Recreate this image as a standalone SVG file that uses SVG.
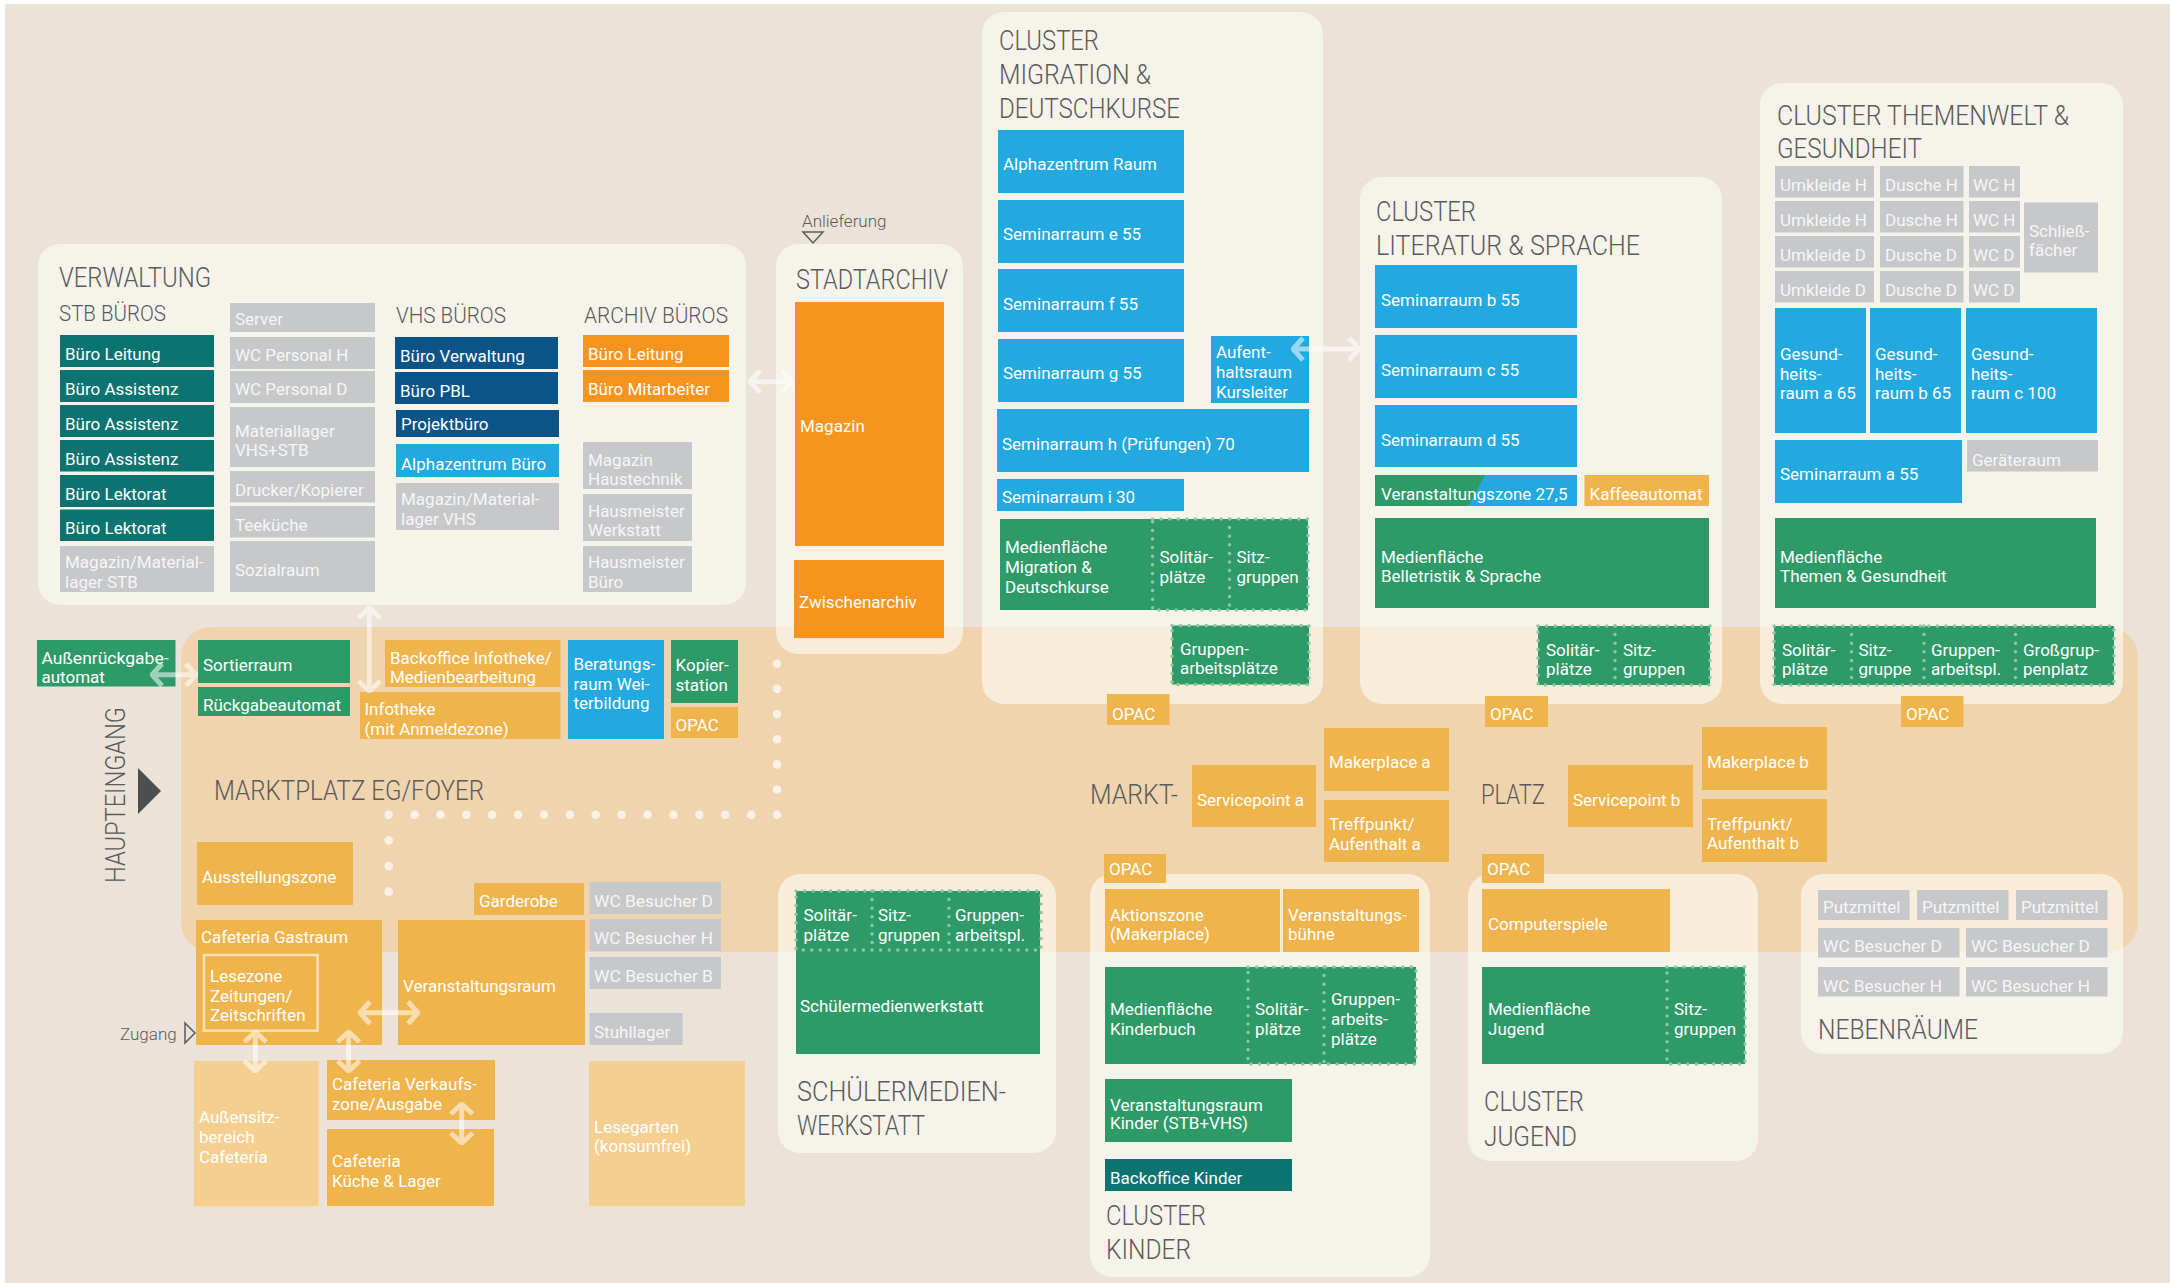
<svg xmlns="http://www.w3.org/2000/svg" width="2170" height="1283" viewBox="0 0 2170 1283">
<style>
.bg{fill:#ECE3D8}
.band{fill:#F0D4AD}
.panel{fill:#FDFDF8;fill-opacity:.6}
.teal{fill:#0B7470}.grey{fill:#C7C8CA}.navy{fill:#0A5487}.blue{fill:#22A9DF}.orange{fill:#F7941E}.yellow{fill:#F0B44C}.green{fill:#2E9A68}.pale{fill:#F5CF8F}
text{font-family:Roboto,"Liberation Sans",sans-serif}
.l{font-size:17px;fill:#FFFFFF}
.g{font-size:17px;fill:#F6F6F6}
.h{font-size:27px;font-weight:300;fill:#5A5B5D}
.h2{font-size:22.5px;font-weight:300;fill:#5A5B5D}
.s{font-size:17px;font-weight:300;fill:#5A5B5D}
.dot{fill:none;stroke:#8EC6A4;stroke-width:3.5;stroke-dasharray:0 8.6;stroke-linecap:round}
.walk{fill:none;stroke:#FAF2E6;stroke-width:8.6;stroke-linecap:round}
.frame{fill:none;stroke:#F8E0B8;stroke-width:2.5}
.conn{fill:none;stroke:#FFFFFF;stroke-width:5;marker-start:url(#chev);marker-end:url(#chev)}
</style>
<defs>
<marker id="chev" viewBox="-14 -14 16 28" markerWidth="16" markerHeight="28" refX="0" refY="0" orient="auto-start-reverse" markerUnits="userSpaceOnUse">
<path d="M-10,-11 L0,0 L-10,11" fill="none" stroke="#FFFFFF" stroke-width="5"/>
</marker>
</defs>

<rect class="bg" x="5" y="4" width="2165" height="1279"/>
<rect id="marktplatz-band" class="band" x="181" y="627" width="1957" height="325" rx="30"/>

<g id="panels">
<rect id="p-verwaltung" class="panel" x="38" y="244" width="708" height="361" rx="22"/>
<rect id="p-stadtarchiv" class="panel" x="776" y="244" width="187" height="410" rx="22"/>
<rect id="p-migration" class="panel" x="982" y="12" width="341" height="692" rx="22"/>
<rect id="p-literatur" class="panel" x="1360" y="177" width="362" height="527" rx="22"/>
<rect id="p-themenwelt" class="panel" x="1760" y="83" width="363" height="621" rx="22"/>
<rect id="p-schueler" class="panel" x="778" y="874" width="278" height="279" rx="22"/>
<rect id="p-kinder" class="panel" x="1090" y="874" width="340" height="403" rx="22"/>
<rect id="p-jugend" class="panel" x="1468" y="874" width="290" height="287" rx="22"/>
<rect id="p-neben" class="panel" x="1801" y="874" width="322" height="180" rx="22"/>
</g>

<g id="walkway">
<path class="walk" d="M777,663.7 V814.7" stroke-dasharray="0 25.17"/>
<path class="walk" d="M777,814.7 H388.7" stroke-dasharray="0 25.89"/>
<path class="walk" d="M388.7,814.7 V917.3" stroke-dasharray="0 25.65"/>
</g>

<g id="titles">
<text class="h" x="59" y="287" textLength="152" lengthAdjust="spacingAndGlyphs">VERWALTUNG</text>
<text class="h2" x="59" y="321" textLength="107" lengthAdjust="spacingAndGlyphs">STB BÜROS</text>
<text class="h2" x="396" y="322.5" textLength="110" lengthAdjust="spacingAndGlyphs">VHS BÜROS</text>
<text class="h2" x="584" y="322.5" textLength="144" lengthAdjust="spacingAndGlyphs">ARCHIV BÜROS</text>
<text class="h" x="796" y="289" textLength="152" lengthAdjust="spacingAndGlyphs">STADTARCHIV</text>
<text class="h" x="999" y="50" textLength="100" lengthAdjust="spacingAndGlyphs">CLUSTER</text>
<text class="h" x="999" y="84" textLength="152" lengthAdjust="spacingAndGlyphs">MIGRATION &amp;</text>
<text class="h" x="999" y="118" textLength="181" lengthAdjust="spacingAndGlyphs">DEUTSCHKURSE</text>
<text class="h" x="1376" y="221" textLength="100" lengthAdjust="spacingAndGlyphs">CLUSTER</text>
<text class="h" x="1376" y="254.5" textLength="264" lengthAdjust="spacingAndGlyphs">LITERATUR &amp; SPRACHE</text>
<text class="h" x="1777" y="124.5" textLength="292" lengthAdjust="spacingAndGlyphs">CLUSTER THEMENWELT &amp;</text>
<text class="h" x="1777" y="158" textLength="145" lengthAdjust="spacingAndGlyphs">GESUNDHEIT</text>
<text class="h" x="214" y="800" textLength="270" lengthAdjust="spacingAndGlyphs">MARKTPLATZ EG/FOYER</text>
<text class="h" x="1090" y="804" textLength="88" lengthAdjust="spacingAndGlyphs">MARKT-</text>
<text class="h" x="1481" y="804" textLength="64" lengthAdjust="spacingAndGlyphs">PLATZ</text>
<text class="h" x="797" y="1101" textLength="209" lengthAdjust="spacingAndGlyphs">SCHÜLERMEDIEN-</text>
<text class="h" x="797" y="1135" textLength="128" lengthAdjust="spacingAndGlyphs">WERKSTATT</text>
<text class="h" x="1106" y="1225" textLength="100" lengthAdjust="spacingAndGlyphs">CLUSTER</text>
<text class="h" x="1106" y="1259" textLength="85" lengthAdjust="spacingAndGlyphs">KINDER</text>
<text class="h" x="1484" y="1111" textLength="100" lengthAdjust="spacingAndGlyphs">CLUSTER</text>
<text class="h" x="1484" y="1146" textLength="93" lengthAdjust="spacingAndGlyphs">JUGEND</text>
<text class="h" x="1818" y="1039" textLength="160" lengthAdjust="spacingAndGlyphs">NEBENRÄUME</text>
<text class="h" transform="translate(125,883) rotate(-90)" x="0" y="0" textLength="176" lengthAdjust="spacingAndGlyphs">HAUPTEINGANG</text>
<polygon points="138,768 161,791 138,814" fill="#4D4E50"/>
<text class="s" x="802" y="226.5">Anlieferung</text>
<polygon points="803,232 823,232 813,243" fill="none" stroke="#5A5B5D" stroke-width="1.5"/>
<text class="s" x="120" y="1040">Zugang</text>
<polygon points="185,1023 195,1033 185,1043" fill="none" stroke="#5A5B5D" stroke-width="1.5"/>
</g>

<g id="verwaltung-rooms">
<g id="stb-leitung"><rect class="teal" x="60" y="335" width="154" height="32"/><text class="l" x="65" y="359.5">Büro Leitung</text></g>
<g id="stb-assistenz1"><rect class="teal" x="60" y="370" width="154" height="32"/><text class="l" x="65" y="394.5">Büro Assistenz</text></g>
<g id="stb-assistenz2"><rect class="teal" x="60" y="405" width="154" height="32"/><text class="l" x="65" y="429.5">Büro Assistenz</text></g>
<g id="stb-assistenz3"><rect class="teal" x="60" y="440" width="154" height="31.5"/><text class="l" x="65" y="464.5">Büro Assistenz</text></g>
<g id="stb-lektorat1"><rect class="teal" x="60" y="475" width="154" height="32"/><text class="l" x="65" y="499.5">Büro Lektorat</text></g>
<g id="stb-lektorat2"><rect class="teal" x="60" y="509.5" width="154" height="31.5"/><text class="l" x="65" y="534">Büro Lektorat</text></g>
<g id="stb-magazin"><rect class="grey" x="60" y="546" width="154" height="46"/><text class="g"><tspan x="65" y="568">Magazin/Material-</tspan><tspan x="65" y="587.5">lager STB</tspan></text></g>
<g id="server"><rect class="grey" x="230" y="303" width="145" height="29"/><text class="g" x="235" y="325">Server</text></g>
<g id="wc-personal-h"><rect class="grey" x="230" y="337" width="145" height="32"/><text class="g" x="235" y="361">WC Personal H</text></g>
<g id="wc-personal-d"><rect class="grey" x="230" y="371" width="145" height="32"/><text class="g" x="235" y="395">WC Personal D</text></g>
<g id="materiallager"><rect class="grey" x="230" y="407" width="145" height="60"/><text class="g"><tspan x="235" y="436.5">Materiallager</tspan><tspan x="235" y="456">VHS+STB</tspan></text></g>
<g id="drucker"><rect class="grey" x="230" y="471" width="145" height="31.5"/><text class="g" x="235" y="495.5">Drucker/Kopierer</text></g>
<g id="teekueche"><rect class="grey" x="230" y="506" width="145" height="31.5"/><text class="g" x="235" y="531">Teeküche</text></g>
<g id="sozialraum"><rect class="grey" x="230" y="541" width="145" height="51"/><text class="g" x="235" y="576">Sozialraum</text></g>
<g id="vhs-verwaltung"><rect class="navy" x="395" y="337" width="163" height="32"/><text class="l" x="400" y="361.5">Büro Verwaltung</text></g>
<g id="vhs-pbl"><rect class="navy" x="395" y="372" width="163" height="32"/><text class="l" x="400" y="396.5">Büro PBL</text></g>
<g id="projektbuero"><rect class="navy" x="396" y="410" width="163" height="27"/><text class="l" x="401" y="430">Projektbüro</text></g>
<g id="alpha-buero"><rect class="blue" x="396" y="444" width="163" height="33"/><text class="l" x="401" y="469.5">Alphazentrum Büro</text></g>
<g id="vhs-magazin"><rect class="grey" x="396" y="483" width="163" height="47"/><text class="g"><tspan x="401" y="505">Magazin/Material-</tspan><tspan x="401" y="524.5">lager VHS</tspan></text></g>
<g id="archiv-leitung"><rect class="orange" x="583" y="335" width="146" height="32"/><text class="l" x="588" y="360">Büro Leitung</text></g>
<g id="archiv-mitarbeiter"><rect class="orange" x="583" y="370" width="146" height="32"/><text class="l" x="588" y="394.5">Büro Mitarbeiter</text></g>
<g id="magazin-haustechnik"><rect class="grey" x="583" y="442" width="109" height="47"/><text class="g"><tspan x="588" y="466">Magazin</tspan><tspan x="588" y="485">Haustechnik</tspan></text></g>
<g id="hausmeister-werkstatt"><rect class="grey" x="583" y="494" width="109" height="47"/><text class="g"><tspan x="588" y="517">Hausmeister</tspan><tspan x="588" y="536">Werkstatt</tspan></text></g>
<g id="hausmeister-buero"><rect class="grey" x="583" y="546" width="109" height="46"/><text class="g"><tspan x="588" y="568">Hausmeister</tspan><tspan x="588" y="587.5">Büro</tspan></text></g>
</g>

<g id="stadtarchiv-rooms">
<g id="magazin"><rect class="orange" x="795" y="302" width="149" height="244"/><text class="l" x="800" y="432">Magazin</text></g>
<g id="zwischenarchiv"><rect class="orange" x="794" y="560" width="150" height="78"/><text class="l" x="799" y="607.5">Zwischenarchiv</text></g>
</g>

<g id="migration-rooms">
<g id="alpha-raum"><rect class="blue" x="998" y="130" width="186" height="63"/><text class="l" x="1003" y="170">Alphazentrum Raum</text></g>
<g id="sem-e"><rect class="blue" x="998" y="200" width="186" height="63"/><text class="l" x="1003" y="240">Seminarraum e 55</text></g>
<g id="sem-f"><rect class="blue" x="998" y="269" width="186" height="63"/><text class="l" x="1003" y="310">Seminarraum f 55</text></g>
<g id="sem-g"><rect class="blue" x="998" y="339" width="186" height="63"/><text class="l" x="1003" y="379">Seminarraum g 55</text></g>
<g id="aufenthalt-kursleiter"><rect class="blue" x="1211" y="336" width="98" height="67"/><text class="l"><tspan x="1216" y="358">Aufent-</tspan><tspan x="1216" y="378">haltsraum</tspan><tspan x="1216" y="398">Kursleiter</tspan></text></g>
<g id="sem-h"><rect class="blue" x="997" y="409" width="312" height="63"/><text class="l" x="1002" y="449.5">Seminarraum h (Prüfungen) 70</text></g>
<g id="sem-i"><rect class="blue" x="997" y="479" width="187" height="32"/><text class="l" x="1002" y="503">Seminarraum i 30</text></g>
<g id="medien-migration"><rect class="green" x="1000" y="519" width="308" height="91"/>
<path class="dot" d="M1152.5,519 H1308 V610 H1152.5 Z M1229.5,519 V610"/>
<text class="l"><tspan x="1005" y="553">Medienfläche</tspan><tspan x="1005" y="573">Migration &amp;</tspan><tspan x="1005" y="593">Deutschkurse</tspan></text>
<text class="l"><tspan x="1159.5" y="563">Solitär-</tspan><tspan x="1159.5" y="583">plätze</tspan></text>
<text class="l"><tspan x="1236.5" y="563">Sitz-</tspan><tspan x="1236.5" y="583">gruppen</tspan></text></g>
<g id="gruppen-migration"><rect class="green" x="1172" y="625.5" width="137" height="59"/><path class="dot" d="M1172,625.5 H1309 V684.5 H1172 Z"/><text class="l"><tspan x="1180" y="654.5">Gruppen-</tspan><tspan x="1180" y="674">arbeitsplätze</tspan></text></g>
<g id="opac-migration"><rect class="yellow" x="1107" y="694" width="62.5" height="31"/><text class="l" x="1112" y="719.5">OPAC</text></g>
</g>

<g id="literatur-rooms">
<g id="sem-b"><rect class="blue" x="1375" y="265" width="202" height="63"/><text class="l" x="1381" y="306">Seminarraum b 55</text></g>
<g id="sem-c"><rect class="blue" x="1375" y="335" width="202" height="63"/><text class="l" x="1381" y="376">Seminarraum c 55</text></g>
<g id="sem-d"><rect class="blue" x="1375" y="405" width="202" height="62"/><text class="l" x="1381" y="445.5">Seminarraum d 55</text></g>
<g id="veranstaltungszone"><rect class="blue" x="1375" y="475" width="202" height="31"/><polygon class="green" points="1375,475 1485,475 1468,506 1375,506"/><text class="l" x="1381" y="500">Veranstaltungszone 27,5</text></g>
<g id="kaffeeautomat"><rect class="yellow" x="1584.5" y="475" width="124.5" height="31"/><text class="l" x="1589.5" y="500">Kaffeeautomat</text></g>
<g id="medien-belletristik"><rect class="green" x="1375" y="518" width="334" height="90"/><text class="l"><tspan x="1381" y="562.5">Medienfläche</tspan><tspan x="1381" y="582">Belletristik &amp; Sprache</tspan></text></g>
<g id="sitz-literatur"><rect class="green" x="1538" y="626" width="172" height="59"/><path class="dot" d="M1538,626 H1710 V685 H1538 Z M1615,626 V685"/>
<text class="l"><tspan x="1546" y="655.5">Solitär-</tspan><tspan x="1546" y="674.5">plätze</tspan></text>
<text class="l"><tspan x="1623" y="655.5">Sitz-</tspan><tspan x="1623" y="674.5">gruppen</tspan></text></g>
<g id="opac-literatur"><rect class="yellow" x="1485" y="696" width="63" height="31"/><text class="l" x="1490" y="719.5">OPAC</text></g>
</g>

<g id="themenwelt-rooms">
<g id="umkleide-h1"><rect class="grey" x="1775" y="166" width="99" height="31.5"/><text class="g" x="1780" y="191">Umkleide H</text></g>
<g id="dusche-h1"><rect class="grey" x="1880" y="166" width="83.5" height="31.5"/><text class="g" x="1885" y="191">Dusche H</text></g>
<g id="wc-h1"><rect class="grey" x="1969" y="166" width="51" height="31.5"/><text class="g" x="1973" y="191">WC H</text></g>
<g id="umkleide-h2"><rect class="grey" x="1775" y="201" width="99" height="31.5"/><text class="g" x="1780" y="226">Umkleide H</text></g>
<g id="dusche-h2"><rect class="grey" x="1880" y="201" width="83.5" height="31.5"/><text class="g" x="1885" y="226">Dusche H</text></g>
<g id="wc-h2"><rect class="grey" x="1969" y="201" width="51" height="31.5"/><text class="g" x="1973" y="226">WC H</text></g>
<g id="umkleide-d1"><rect class="grey" x="1775" y="236" width="99" height="31.5"/><text class="g" x="1780" y="261">Umkleide D</text></g>
<g id="dusche-d1"><rect class="grey" x="1880" y="236" width="83.5" height="31.5"/><text class="g" x="1885" y="261">Dusche D</text></g>
<g id="wc-d1"><rect class="grey" x="1969" y="236" width="51" height="31.5"/><text class="g" x="1973" y="261">WC D</text></g>
<g id="umkleide-d2"><rect class="grey" x="1775" y="271" width="99" height="31.5"/><text class="g" x="1780" y="296">Umkleide D</text></g>
<g id="dusche-d2"><rect class="grey" x="1880" y="271" width="83.5" height="31.5"/><text class="g" x="1885" y="296">Dusche D</text></g>
<g id="wc-d2"><rect class="grey" x="1969" y="271" width="51" height="31.5"/><text class="g" x="1973" y="296">WC D</text></g>
<g id="schliessfaecher"><rect class="grey" x="2024" y="202.5" width="74" height="70"/><text class="g"><tspan x="2029" y="236.5">Schließ-</tspan><tspan x="2029" y="256">fächer</tspan></text></g>
<g id="gesund-a"><rect class="blue" x="1775" y="308" width="91" height="125"/><text class="l"><tspan x="1780" y="360">Gesund-</tspan><tspan x="1780" y="379.5">heits-</tspan><tspan x="1780" y="399">raum a 65</tspan></text></g>
<g id="gesund-b"><rect class="blue" x="1870" y="308" width="91" height="125"/><text class="l"><tspan x="1875" y="360">Gesund-</tspan><tspan x="1875" y="379.5">heits-</tspan><tspan x="1875" y="399">raum b 65</tspan></text></g>
<g id="gesund-c"><rect class="blue" x="1966" y="308" width="131" height="125"/><text class="l"><tspan x="1971" y="360">Gesund-</tspan><tspan x="1971" y="379.5">heits-</tspan><tspan x="1971" y="399">raum c 100</tspan></text></g>
<g id="sem-a"><rect class="blue" x="1775" y="440" width="187" height="63"/><text class="l" x="1780" y="480">Seminarraum a 55</text></g>
<g id="geraeteraum"><rect class="grey" x="1967" y="440" width="131" height="31.5"/><text class="g" x="1972" y="465.5">Geräteraum</text></g>
<g id="medien-themen"><rect class="green" x="1775" y="518" width="321" height="90"/><text class="l"><tspan x="1780" y="562.5">Medienfläche</tspan><tspan x="1780" y="582">Themen &amp; Gesundheit</tspan></text></g>
<g id="sitz-themen"><rect class="green" x="1774" y="626" width="340" height="59"/><path class="dot" d="M1774,626 H2114 V685 H1774 Z M1851.5,626 V685 M1924,626 V685 M2015.5,626 V685"/>
<text class="l"><tspan x="1782" y="655.5">Solitär-</tspan><tspan x="1782" y="674.5">plätze</tspan></text>
<text class="l"><tspan x="1858.5" y="655.5">Sitz-</tspan><tspan x="1858.5" y="674.5">gruppe</tspan></text>
<text class="l"><tspan x="1931" y="655.5">Gruppen-</tspan><tspan x="1931" y="674.5">arbeitspl.</tspan></text>
<text class="l"><tspan x="2023" y="655.5">Großgrup-</tspan><tspan x="2023" y="674.5">penplatz</tspan></text></g>
<g id="opac-themen"><rect class="yellow" x="1901" y="696" width="62.5" height="31"/><text class="l" x="1906" y="719.5">OPAC</text></g>
</g>

<g id="marktplatz-rooms">
<g id="aussenrueckgabe"><rect class="green" x="37" y="640" width="138.5" height="46.5"/><text class="l"><tspan x="41.5" y="663.5" textLength="127" lengthAdjust="spacingAndGlyphs">Außenrückgabe-</tspan><tspan x="41.5" y="683">automat</tspan></text></g>
<g id="sortierraum"><rect class="green" x="198" y="640" width="152" height="43"/><text class="l" x="203" y="671">Sortierraum</text></g>
<g id="rueckgabeautomat"><rect class="green" x="198" y="687" width="152" height="29"/><text class="l" x="203" y="710.5">Rückgabeautomat</text></g>
<g id="backoffice-infotheke"><rect class="yellow" x="385" y="640" width="175.5" height="47"/><text class="l"><tspan x="390" y="663.5">Backoffice Infotheke/</tspan><tspan x="390" y="683">Medienbearbeitung</tspan></text></g>
<g id="infotheke"><rect class="yellow" x="360" y="692" width="200.5" height="47"/><text class="l"><tspan x="364.5" y="715">Infotheke</tspan><tspan x="364.5" y="734.5">(mit Anmeldezone)</tspan></text></g>
<g id="beratungsraum"><rect class="blue" x="568" y="640" width="96" height="99"/><text class="l"><tspan x="573.5" y="669.5">Beratungs-</tspan><tspan x="573.5" y="689.5">raum Wei-</tspan><tspan x="573.5" y="709">terbildung</tspan></text></g>
<g id="kopierstation"><rect class="green" x="671" y="640" width="67" height="63"/><text class="l"><tspan x="675.5" y="671">Kopier-</tspan><tspan x="675.5" y="691">station</tspan></text></g>
<g id="opac-foyer"><rect class="yellow" x="671" y="707" width="67" height="31"/><text class="l" x="675.5" y="731">OPAC</text></g>
<g id="ausstellungszone"><rect class="yellow" x="197" y="842" width="156" height="63"/><text class="l" x="202" y="882.5">Ausstellungszone</text></g>
<g id="garderobe"><rect class="yellow" x="474" y="883" width="110" height="32"/><text class="l" x="479" y="907">Garderobe</text></g>
<g id="wc-besucher-d"><rect class="grey" x="589.6" y="882" width="131.4" height="32"/><text class="g" x="594" y="907" textLength="119" lengthAdjust="spacingAndGlyphs">WC Besucher D</text></g>
<g id="wc-besucher-h"><rect class="grey" x="589.6" y="919" width="131.4" height="32"/><text class="g" x="594" y="944" textLength="119" lengthAdjust="spacingAndGlyphs">WC Besucher H</text></g>
<g id="wc-besucher-b"><rect class="grey" x="589.6" y="957" width="131.4" height="32"/><text class="g" x="594" y="981.5" textLength="119" lengthAdjust="spacingAndGlyphs">WC Besucher B</text></g>
<g id="stuhllager"><rect class="grey" x="589.6" y="1013" width="93" height="32"/><text class="g" x="594" y="1037.5">Stuhllager</text></g>
<g id="cafeteria-gastraum"><rect class="yellow" x="196" y="920" width="186" height="125"/><text class="l" x="201" y="943">Cafeteria Gastraum</text>
<rect class="frame" x="204" y="955" width="113.6" height="75.7"/><text class="l"><tspan x="210" y="982">Lesezone</tspan><tspan x="210" y="1001.5">Zeitungen/</tspan><tspan x="210" y="1021">Zeitschriften</tspan></text></g>
<g id="veranstaltungsraum"><rect class="yellow" x="398" y="920" width="187" height="125"/><text class="l" x="403" y="992">Veranstaltungsraum</text></g>
<g id="aussensitz"><rect class="pale" x="194" y="1061" width="124.6" height="145.3"/><text class="l"><tspan x="199" y="1123">Außensitz-</tspan><tspan x="199" y="1143">bereich</tspan><tspan x="199" y="1162.5">Cafeteria</tspan></text></g>
<g id="cafeteria-verkauf"><rect class="yellow" x="327" y="1060" width="168" height="60"/><text class="l"><tspan x="332" y="1090">Cafeteria Verkaufs-</tspan><tspan x="332" y="1110">zone/Ausgabe</tspan></text></g>
<g id="cafeteria-kueche"><rect class="yellow" x="327" y="1129" width="167" height="77"/><text class="l"><tspan x="332" y="1167">Cafeteria</tspan><tspan x="332" y="1186.5">Küche &amp; Lager</tspan></text></g>
<g id="lesegarten"><rect class="pale" x="589" y="1061" width="156" height="145"/><text class="l"><tspan x="594" y="1133">Lesegarten</tspan><tspan x="594" y="1152">(konsumfrei)</tspan></text></g>
<g id="servicepoint-a"><rect class="yellow" x="1192" y="765" width="124" height="62"/><text class="l" x="1197" y="806">Servicepoint a</text></g>
<g id="makerplace-a"><rect class="yellow" x="1324" y="728" width="125" height="63"/><text class="l" x="1329" y="768">Makerplace a</text></g>
<g id="treffpunkt-a"><rect class="yellow" x="1324" y="800" width="125" height="62"/><text class="l"><tspan x="1329" y="830">Treffpunkt/</tspan><tspan x="1329" y="849.5">Aufenthalt a</tspan></text></g>
<g id="servicepoint-b"><rect class="yellow" x="1568" y="765" width="125" height="62"/><text class="l" x="1573" y="806">Servicepoint b</text></g>
<g id="makerplace-b"><rect class="yellow" x="1702" y="727" width="125" height="63"/><text class="l" x="1707" y="767.5">Makerplace b</text></g>
<g id="treffpunkt-b"><rect class="yellow" x="1702" y="799" width="125" height="63"/><text class="l"><tspan x="1707" y="829.5">Treffpunkt/</tspan><tspan x="1707" y="849">Aufenthalt b</tspan></text></g>
</g>

<g id="schueler-rooms">
<g id="schuelermedienwerkstatt"><rect class="green" x="796" y="891" width="244" height="163"/><path class="dot" d="M796,891 H1041 V950 H796 Z M872,891 V950 M949,891 V950"/>
<text class="l"><tspan x="803.5" y="921">Solitär-</tspan><tspan x="803.5" y="940.5">plätze</tspan></text>
<text class="l"><tspan x="878" y="921">Sitz-</tspan><tspan x="878" y="940.5">gruppen</tspan></text>
<text class="l"><tspan x="955" y="921">Gruppen-</tspan><tspan x="955" y="940.5">arbeitspl.</tspan></text>
<text class="l" x="800" y="1011.5">Schülermedienwerkstatt</text></g>
</g>

<g id="kinder-rooms">
<g id="opac-kinder"><rect class="yellow" x="1104" y="854" width="62" height="29"/><text class="l" x="1109" y="874.5">OPAC</text></g>
<g id="aktionszone"><rect class="yellow" x="1105" y="889" width="175" height="63"/><text class="l"><tspan x="1110" y="920.5">Aktionszone</tspan><tspan x="1110" y="940">(Makerplace)</tspan></text></g>
<g id="buehne"><rect class="yellow" x="1283" y="889" width="136" height="63"/><text class="l"><tspan x="1288" y="920.5">Veranstaltungs-</tspan><tspan x="1288" y="940">bühne</tspan></text></g>
<g id="medien-kinderbuch"><rect class="green" x="1105" y="967" width="311" height="97"/><path class="dot" d="M1248,967 H1416 V1064 H1248 Z M1324,967 V1064"/>
<text class="l"><tspan x="1110" y="1015">Medienfläche</tspan><tspan x="1110" y="1035">Kinderbuch</tspan></text>
<text class="l"><tspan x="1255" y="1015">Solitär-</tspan><tspan x="1255" y="1035">plätze</tspan></text>
<text class="l"><tspan x="1331" y="1005">Gruppen-</tspan><tspan x="1331" y="1025">arbeits-</tspan><tspan x="1331" y="1044.5">plätze</tspan></text></g>
<g id="veranstaltungsraum-kinder"><rect class="green" x="1105" y="1079" width="187" height="63"/><text class="l"><tspan x="1110" y="1110.5">Veranstaltungsraum</tspan><tspan x="1110" y="1129">Kinder (STB+VHS)</tspan></text></g>
<g id="backoffice-kinder"><rect class="teal" x="1105" y="1159" width="187" height="32"/><text class="l" x="1110" y="1184">Backoffice Kinder</text></g>
</g>

<g id="jugend-rooms">
<g id="opac-jugend"><rect class="yellow" x="1482" y="854" width="62" height="29"/><text class="l" x="1487" y="874.5">OPAC</text></g>
<g id="computerspiele"><rect class="yellow" x="1482" y="889" width="188" height="63"/><text class="l" x="1488" y="930">Computerspiele</text></g>
<g id="medien-jugend"><rect class="green" x="1482" y="967" width="263" height="97"/><path class="dot" d="M1667,967 H1745 V1064 H1667 Z"/>
<text class="l"><tspan x="1488" y="1015">Medienfläche</tspan><tspan x="1488" y="1035">Jugend</tspan></text>
<text class="l"><tspan x="1674" y="1015">Sitz-</tspan><tspan x="1674" y="1035">gruppen</tspan></text></g>
</g>

<g id="neben-rooms">
<g id="putz1"><rect class="grey" x="1818" y="890" width="91.5" height="30"/><text class="g" x="1823" y="913">Putzmittel</text></g>
<g id="putz2"><rect class="grey" x="1917" y="890" width="91.5" height="30"/><text class="g" x="1922" y="913">Putzmittel</text></g>
<g id="putz3"><rect class="grey" x="2016" y="890" width="91.5" height="30"/><text class="g" x="2021" y="913">Putzmittel</text></g>
<g id="wc-bd1"><rect class="grey" x="1818" y="928" width="141.5" height="29.5"/><text class="g" x="1823" y="952" textLength="119" lengthAdjust="spacingAndGlyphs">WC Besucher D</text></g>
<g id="wc-bd2"><rect class="grey" x="1966" y="928" width="141.5" height="29.5"/><text class="g" x="1971" y="952" textLength="119" lengthAdjust="spacingAndGlyphs">WC Besucher D</text></g>
<g id="wc-bh1"><rect class="grey" x="1818" y="967" width="141.5" height="29.5"/><text class="g" x="1823" y="991.5" textLength="119" lengthAdjust="spacingAndGlyphs">WC Besucher H</text></g>
<g id="wc-bh2"><rect class="grey" x="1966" y="967" width="141.5" height="29.5"/><text class="g" x="1971" y="991.5" textLength="119" lengthAdjust="spacingAndGlyphs">WC Besucher H</text></g>
</g>

<g id="connectors" opacity="0.55">
<path class="conn" d="M750,381.7 H792"/>
<path class="conn" d="M1293,349 H1359"/>
<path class="conn" d="M369.3,608 V691"/>
<path class="conn" d="M152,674.7 H196"/>
<path class="conn" d="M360,1012.7 H418"/>
<path class="conn" d="M255.3,1032 V1071"/>
<path class="conn" d="M348.6,1032 V1071"/>
<path class="conn" d="M461.7,1104 V1143"/>
</g>
</svg>
